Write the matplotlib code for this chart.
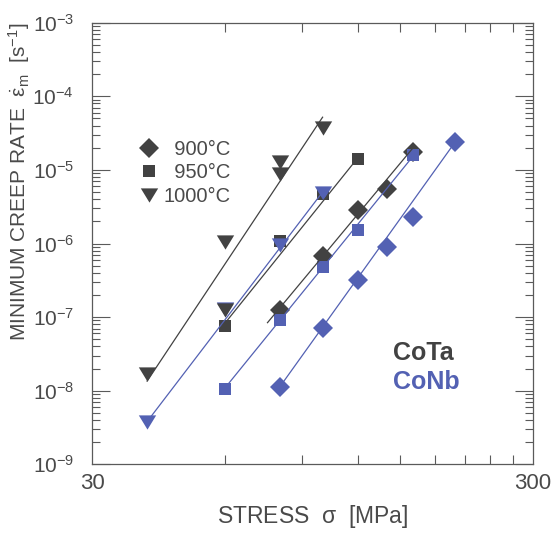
import numpy as np
import matplotlib.pyplot as plt
from matplotlib.lines import Line2D
from matplotlib.ticker import FixedLocator, NullFormatter, LogLocator

plt.rcParams['font.family'] = ['Liberation Sans', 'DejaVu Sans']
plt.rcParams['mathtext.fontset'] = 'custom'
plt.rcParams['mathtext.rm'] = 'Liberation Sans'
plt.rcParams['mathtext.it'] = 'Liberation Sans:italic'
plt.rcParams['mathtext.default'] = 'regular'

# --- data (stress in MPa, creep rate in 1/s) ---
cota_900_x = [80, 100, 120, 140, 160]
cota_900_y = [1.25e-7, 6.8e-7, 2.85e-6, 5.45e-6, 1.77e-5]
cota_950_x = [60, 80, 100, 120]
cota_950_y = [7.6e-8, 1.09e-6, 4.7e-6, 1.41e-5]
cota_1000_x = [40, 60, 60, 80, 80, 100]
cota_1000_y = [1.69e-8, 1.04e-6, 1.23e-7, 1.29e-5, 8.7e-6, 3.67e-5]

conb_900_x = [80, 100, 120, 140, 160, 200]
conb_900_y = [1.13e-8, 7.2e-8, 3.19e-7, 9.05e-7, 2.31e-6, 2.37e-5]
conb_950_x = [60, 80, 100, 120, 160]
conb_950_y = [1.05e-8, 9.1e-8, 4.84e-7, 1.52e-6, 1.58e-5]
conb_1000_x = [40, 60, 80, 100]
conb_1000_y = [3.8e-9, 1.29e-7, 9.5e-7, 4.9e-6]

# power-law fit lines (end points)
fit_cota_900 = ([75, 160], [8.4e-8, 1.96e-5])
fit_cota_950 = ([60, 120], [8.2e-8, 1.44e-5])
fit_cota_1000 = ([40, 100], [1.35e-8, 5.2e-5])
fit_conb_900 = ([80, 200], [1.13e-8, 2.41e-5])
fit_conb_950 = ([60, 160], [1.08e-8, 1.51e-5])
fit_conb_1000 = ([40, 100], [3.8e-9, 5.0e-6])

temps = ['\u2007900°C', '\u2007950°C', '1000°C']

dark = '#424242'
blue = '#5361b3'
axcol = '#5a5a5a'
txtcol = '#4a4a4a'

tri = [(-1, 0.82), (1, 0.82), (0, -0.82), (-1, 0.82)]
mk = {'900': dict(marker='D', ms=10), '950': dict(marker='s', ms=9.2),
      '1000': dict(marker=tri, ms=12.5)}

fig = plt.figure(figsize=(5.53, 5.33), dpi=100)
ax = fig.add_axes([0.1664, 0.1289, 0.7974, 0.8285])
ax.set_xscale('log')
ax.set_yscale('log')
ax.set_xlim(30, 300)
ax.set_ylim(1e-9, 1e-3)


def pts(x, y, c, key, z):
    ax.plot(x, y, linestyle='none', color=c, mec=c, mew=0, zorder=z, **mk[key])


# draw order follows the overlaps in the reference
pts(cota_950_x, cota_950_y, dark, '950', 2)
pts(cota_900_x, cota_900_y, dark, '900', 2)
pts(conb_1000_x, conb_1000_y, blue, '1000', 3)
pts(cota_1000_x, cota_1000_y, dark, '1000', 4)
pts(conb_950_x, conb_950_y, blue, '950', 5)
pts(conb_900_x, conb_900_y, blue, '900', 5)

for fx, fy in [fit_cota_900, fit_cota_950, fit_cota_1000]:
    ax.plot(fx, fy, color=dark, lw=0.9, zorder=6)
for fx, fy in [fit_conb_900, fit_conb_950, fit_conb_1000]:
    ax.plot(fx, fy, color=blue, lw=0.9, zorder=6)

# ticks
ax.xaxis.set_major_locator(FixedLocator([30, 300]))
ax.xaxis.set_minor_locator(FixedLocator([30 * k for k in range(2, 10)]))
ax.xaxis.set_major_formatter(plt.FuncFormatter(lambda v, p: f'{v:.0f}'))
ax.xaxis.set_minor_formatter(NullFormatter())
ax.yaxis.set_major_locator(LogLocator(base=10, numticks=20))
ax.yaxis.set_minor_locator(LogLocator(base=10, subs=np.arange(2, 10), numticks=20))
ax.yaxis.set_major_formatter(plt.FuncFormatter(lambda v, p: r'$10^{%d}$' % round(np.log10(v))))
ax.yaxis.set_minor_formatter(NullFormatter())

ax.tick_params(which='both', direction='in', top=True, right=True,
               color=axcol, width=0.8, labelcolor=txtcol)
ax.tick_params(axis='x', which='major', length=0, pad=6, labelsize=16)
ax.tick_params(axis='x', which='minor', length=6.5)
ax.tick_params(axis='y', which='major', length=13, pad=13, labelsize=15)
ax.tick_params(axis='y', which='minor', length=6)
for s in ax.spines.values():
    s.set_color(axcol)
    s.set_linewidth(0.9)

ax.set_xlabel(r'STRESS  $\sigma$  [MPa]', fontsize=16.5, color=txtcol, labelpad=7)
ax.set_ylabel(r'MINIMUM CREEP RATE  $\dot{\varepsilon}_m$  [s$^{-1}$]',
              fontsize=15, color=txtcol)
ax.yaxis.set_label_coords(-0.135, 0.64)

handles = [Line2D([], [], linestyle='none', color=dark, mew=0, **mk[k])
           for k in ['900', '950', '1000']]
ax.legend(handles, temps, loc='upper left', bbox_to_anchor=(0.105, 0.735),
          frameon=False, fontsize=14.5, handlelength=1.1, handletextpad=0.15,
          labelspacing=0.22, borderpad=0, borderaxespad=0, labelcolor=txtcol)

ax.text(0.683, 0.252, 'CoTa', transform=ax.transAxes, fontsize=18,
        fontweight='bold', color=dark, va='center')
ax.text(0.683, 0.187, 'CoNb', transform=ax.transAxes, fontsize=18,
        fontweight='bold', color=blue, va='center')

fig.savefig('out.png', dpi=100)
